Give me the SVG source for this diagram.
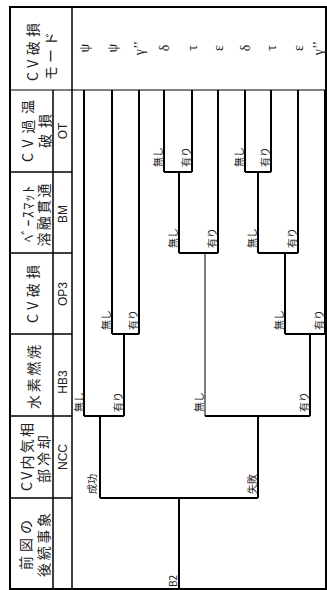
<svg xmlns="http://www.w3.org/2000/svg" width="327" height="590" viewBox="0 0 327 590">
<style>
.frame{fill:none;stroke:#000;stroke-width:2}
.grid{stroke:#000;stroke-width:1.5;fill:none}
.thin{stroke:#000;stroke-width:1;fill:none}
.tree{stroke:#000;stroke-width:2;fill:none}
.tree1{stroke:#000;stroke-width:1;fill:none}
.hd{font-family:"Noto Sans CJK JP","Noto Sans",sans-serif;font-size:14px;fill:#222;text-anchor:middle;dominant-baseline:central}
.cd{font-family:"Liberation Sans","Noto Sans",sans-serif;font-size:12px;fill:#222;text-anchor:middle;dominant-baseline:central}
.lb{font-family:"Noto Sans CJK JP",sans-serif;font-size:10px;fill:#222;text-anchor:start;dominant-baseline:central}
.om{font-family:"Liberation Serif","DejaVu Serif",serif;font-size:14px;fill:#222;text-anchor:middle;dominant-baseline:central}
</style>
<rect width="327" height="590" fill="#fff"/>
<g id="frame">
<rect class="frame" x="10" y="7" width="316" height="582"/>
<line class="thin" x1="10" y1="90" x2="326" y2="90"/>
<line class="grid" x1="72" y1="7" x2="72" y2="589"/>
<line class="grid" x1="53" y1="90" x2="53" y2="589"/>
<line class="grid" x1="10" y1="172" x2="72" y2="172"/>
<line class="grid" x1="10" y1="253" x2="72" y2="253"/>
<line class="grid" x1="10" y1="334" x2="72" y2="334"/>
<line class="grid" x1="10" y1="416" x2="72" y2="416"/>
<line class="grid" x1="10" y1="498" x2="72" y2="498"/>
</g>
<g id="head-mode">
<text class="hd" x="32" y="52" transform="rotate(-90 32 52)" textLength="58" lengthAdjust="spacing">CV破損</text>
<text class="hd" x="50" y="56" transform="rotate(-90 50 56)" textLength="48" lengthAdjust="spacing">モード</text>
</g>
<g id="head-OT">
<text class="hd" x="27" y="131" transform="rotate(-90 27 131)" textLength="62" lengthAdjust="spacing">CV過温</text>
<text class="hd" x="44" y="131" transform="rotate(-90 44 131)" textLength="34" lengthAdjust="spacing">破損</text>
<text class="cd" x="63" y="131" transform="rotate(-90 63 131)">OT</text>
</g>
<g id="head-BM">
<text class="hd" x="27" y="214" transform="rotate(-90 27 214)" textLength="56" lengthAdjust="spacing">ﾍﾞｰｽﾏｯﾄ</text>
<text class="hd" x="43" y="215" transform="rotate(-90 43 215)" textLength="63" lengthAdjust="spacing">溶融貫通</text>
<text class="cd" x="63" y="214" transform="rotate(-90 63 214)">BM</text>
</g>
<g id="head-OP3">
<text class="hd" x="32" y="294" transform="rotate(-90 32 294)" textLength="58" lengthAdjust="spacing">CV破損</text>
<text class="cd" x="63" y="294" transform="rotate(-90 63 294)">OP3</text>
</g>
<g id="head-HB3">
<text class="hd" x="33" y="377" transform="rotate(-90 33 377)" textLength="64" lengthAdjust="spacing">水素燃焼</text>
<text class="cd" x="63" y="382" transform="rotate(-90 63 382)">HB3</text>
</g>
<g id="head-NCC">
<text class="hd" x="26" y="457" transform="rotate(-90 26 457)" textLength="68" lengthAdjust="spacing">CV内気相</text>
<text class="hd" x="43" y="459" transform="rotate(-90 43 459)" textLength="48" lengthAdjust="spacing">部冷却</text>
<text class="cd" x="63" y="457" transform="rotate(-90 63 457)">NCC</text>
</g>
<g id="head-prev">
<text class="hd" x="25" y="545" transform="rotate(-90 25 545)" textLength="50" lengthAdjust="spacing">前図の</text>
<text class="hd" x="43" y="545" transform="rotate(-90 43 545)" textLength="64" lengthAdjust="spacing">後続事象</text>
</g>
<g id="outcomes">
<text class="om" x="84" y="48" transform="rotate(-90 84 48)">ψ</text>
<text class="om" x="112" y="48" transform="rotate(-90 112 48)">ψ</text>
<text class="om" x="139" y="48" transform="rotate(-90 139 48)">γ’’</text>
<text class="om" x="164" y="48" transform="rotate(-90 164 48)">δ</text>
<text class="om" x="192" y="48" transform="rotate(-90 192 48)">τ</text>
<text class="om" x="218" y="48" transform="rotate(-90 218 48)">ε</text>
<text class="om" x="245" y="48" transform="rotate(-90 245 48)">δ</text>
<text class="om" x="271" y="48" transform="rotate(-90 271 48)">τ</text>
<text class="om" x="298" y="48" transform="rotate(-90 298 48)">ε</text>
<text class="om" x="318" y="48" transform="rotate(-90 318 48)">γ’’</text>
</g>
<g id="connectors">
<path class="tree" d="M179 589V498M100 498H258"/>
<path class="tree" d="M100 498V416M84 416H124M84 416V90M124 416V334M112 334H139M112 334V90M139 334V90"/>
<path class="tree" d="M258 498V416M205 416H310"/>
<path class="tree1" d="M205 416V253"/>
<path class="tree" d="M179 253H218M179 253V172M164 172H192M164 172V90M192 172V90M218 253V90"/>
<path class="tree" d="M310 416V334M285 334H325M285 334V253M258 253H298M258 253V172M245 172H271M245 172V90M271 172V90M298 253V90M325 334V90"/>
</g>
<g id="labels">
<text class="lb" x="172" y="587" transform="rotate(-90 172 587)">B2</text>
<text class="lb" x="91" y="494" transform="rotate(-90 91 494)">成功</text>
<text class="lb" x="251" y="494" transform="rotate(-90 251 494)">失敗</text>
<text class="lb" x="78" y="412" transform="rotate(-90 78 412)">無し</text>
<text class="lb" x="117" y="412" transform="rotate(-90 117 412)">有り</text>
<text class="lb" x="105" y="330" transform="rotate(-90 105 330)">無し</text>
<text class="lb" x="132" y="330" transform="rotate(-90 132 330)">有り</text>
<text class="lb" x="198" y="412" transform="rotate(-90 198 412)">無し</text>
<text class="lb" x="303" y="412" transform="rotate(-90 303 412)">有り</text>
<text class="lb" x="278" y="330" transform="rotate(-90 278 330)">無し</text>
<text class="lb" x="318" y="330" transform="rotate(-90 318 330)">有り</text>
<text class="lb" x="172" y="248" transform="rotate(-90 172 248)">無し</text>
<text class="lb" x="211" y="248" transform="rotate(-90 211 248)">有り</text>
<text class="lb" x="251" y="248" transform="rotate(-90 251 248)">無し</text>
<text class="lb" x="291" y="248" transform="rotate(-90 291 248)">有り</text>
<text class="lb" x="157" y="167" transform="rotate(-90 157 167)">無し</text>
<text class="lb" x="185" y="167" transform="rotate(-90 185 167)">有り</text>
<text class="lb" x="238" y="167" transform="rotate(-90 238 167)">無し</text>
<text class="lb" x="264" y="167" transform="rotate(-90 264 167)">有り</text>
</g>
</svg>
